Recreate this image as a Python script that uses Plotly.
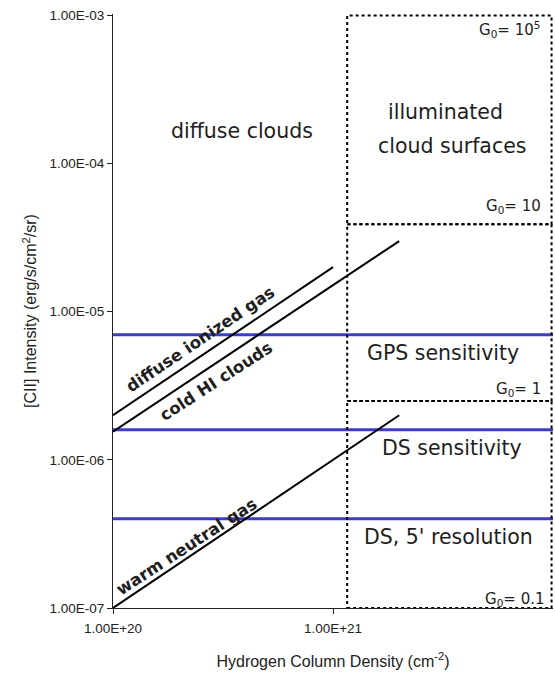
import numpy as np
import plotly.graph_objects as go

# ---- data ----
# model lines: hydrogen column density (cm^-2) vs [CII] intensity
ionized_x = [1e20, 1e21]
ionized_y = [2.0e-6, 2.0e-5]
coldhi_x = [1e20, 2e21]
coldhi_y = [1.55e-6, 3.0e-5]
warm_x = [1e20, 2e21]
warm_y = [1.0e-7, 2.0e-6]

# survey sensitivity levels (horizontal lines)
sens_names = ["GPS sensitivity", "DS sensitivity", "DS, 5' resolution"]
sens_levels = [7.0e-6, 1.6e-6, 4.0e-7]
sens_x = [1e20, 1e22]

# illuminated-surface (PDR) boxes
box_x = [1.16e21, 9.85e21]
g0_edges = [1.0e-7, 2.5e-6, 3.9e-5, 1.0e-3]
g0_labels = ["G<sub>0</sub>= 0.1", "G<sub>0</sub>= 1", "G<sub>0</sub>= 10", "G<sub>0</sub>= 10<sup>5</sup>"]

x_tickvals = [1e20, 1e21]
x_ticktext = ["1.00E+20", "1.00E+21"]
y_tickvals = [1e-7, 1e-6, 1e-5, 1e-4, 1e-3]
y_ticktext = ["1.00E-07", "1.00E-06", "1.00E-05", "1.00E-04", "1.00E-03"]

fig = go.Figure()

blue = "#3c3cc4"
for lvl in sens_levels:
    fig.add_trace(go.Scatter(x=sens_x, y=[lvl, lvl], mode="lines",
                             line=dict(color=blue, width=3), hoverinfo="skip"))

for i in range(len(g0_edges) - 1):
    y0, y1 = g0_edges[i], g0_edges[i + 1]
    fig.add_trace(go.Scatter(x=[box_x[0], box_x[1], box_x[1], box_x[0], box_x[0]],
                             y=[y0, y0, y1, y1, y0], mode="lines",
                             line=dict(color="black", width=2, dash="dot"), hoverinfo="skip"))

for xs, ys in [(ionized_x, ionized_y), (coldhi_x, coldhi_y), (warm_x, warm_y)]:
    fig.add_trace(go.Scatter(x=xs, y=ys, mode="lines",
                             line=dict(color="black", width=2), hoverinfo="skip"))

L = 113.0
R = 553.0
T = 15.5
B = 608.0

def px(xp):
    return (xp - L) / (R - L)

def py(yp):
    return (B - yp) / (B - T)

big = dict(family="DejaVu Sans", size=20.5, color="#1e1e1e")
small = dict(family="DejaVu Sans", size=15, color="#1e1e1e")
rot = dict(family="DejaVu Sans", size=16.5, color="#1e1e1e")

ann = []
ann.append(dict(text="diffuse clouds", x=px(169), y=py(132), xanchor="left", yanchor="middle", font=big))
ann.append(dict(text="illuminated", x=px(445), y=py(113), xanchor="center", yanchor="middle", font=big))
ann.append(dict(text="cloud surfaces", x=px(451.5), y=py(147), xanchor="center", yanchor="middle", font=big))
ann.append(dict(text=sens_names[0], x=px(443), y=py(354), xanchor="center", yanchor="middle", font=big))
ann.append(dict(text=sens_names[1], x=px(451.5), y=py(448), xanchor="center", yanchor="middle", font=big))
ann.append(dict(text=sens_names[2], x=px(448.5), y=py(537), xanchor="center", yanchor="middle", font=big))

g0_pos = [(547, 600), (543, 390), (543, 208), (542, 31)]
for lab, (xx, yy) in zip(g0_labels, g0_pos):
    ann.append(dict(text=lab, x=px(xx), y=py(yy), xanchor="right", yanchor="middle", font=small))

ann.append(dict(text="<b>diffuse ionized gas</b>", x=px(200), y=py(340), textangle=-34,
                xanchor="center", yanchor="middle", font=rot))
ann.append(dict(text="<b>cold HI clouds</b>", x=px(216), y=py(382), textangle=-33,
                xanchor="center", yanchor="middle", font=rot))
ann.append(dict(text="<b>warm neutral gas</b>", x=px(187), y=py(547), textangle=-33,
                xanchor="center", yanchor="middle", font=rot))

for a in ann:
    a.update(xref="paper", yref="paper", showarrow=False)

fig.update_layout(
    width=555, height=673,
    margin=dict(l=113, r=2, t=14, b=65),
    paper_bgcolor="white", plot_bgcolor="white",
    showlegend=False,
    annotations=ann,
    font=dict(family="Liberation Sans", color="#222"),
)

fig.update_xaxes(type="log", range=[20, 22], tickvals=x_tickvals, ticktext=x_ticktext,
                 showgrid=False, zeroline=False, showline=True, linecolor="#222", linewidth=1,
                 ticks="outside", ticklen=5, tickcolor="#222", ticklabelstandoff=3,
                 tickfont=dict(family="Liberation Sans", size=13.5, color="#222"),
                 title=dict(text="Hydrogen Column Density (cm<sup>-2</sup>)",
                            font=dict(family="Liberation Sans", size=16, color="#222"), standoff=20))
fig.update_yaxes(type="log", range=[-7, -2.99], tickvals=y_tickvals, ticktext=y_ticktext,
                 showgrid=False, zeroline=False, showline=True, linecolor="#222", linewidth=1,
                 ticks="outside", ticklen=5, tickcolor="#222",
                 tickfont=dict(family="Liberation Sans", size=13.5, color="#222"),
                 title=dict(text="[CII] Intensity (erg/s/cm<sup>2</sup>/sr)",
                            font=dict(family="Liberation Sans", size=16, color="#222"), standoff=8))

fig.write_html("out.html", config={"displayModeBar": False},
               post_script="document.body.style.margin='0';document.body.style.overflow='hidden';")
